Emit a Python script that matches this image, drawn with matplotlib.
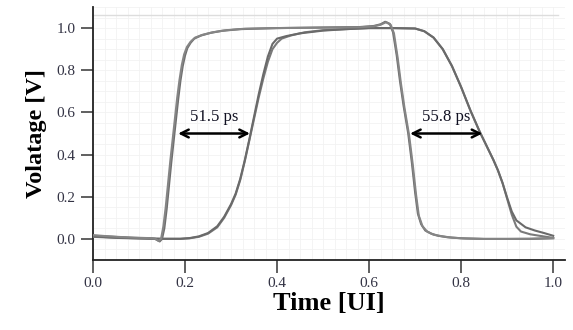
import numpy as np
import matplotlib
matplotlib.use("Agg")
import matplotlib.pyplot as plt

fast1_x = [0.00, 0.03, 0.06, 0.09, 0.12, 0.135, 0.145, 0.150, 0.155, 0.160, 0.165, 0.170,
           0.175, 0.180, 0.185, 0.190, 0.195, 0.200, 0.205, 0.212, 0.220, 0.235, 0.255, 0.28,
           0.32, 0.40, 0.50, 0.58, 0.61, 0.625, 0.635, 0.645, 0.652, 0.660, 0.667, 0.675,
           0.685, 0.693, 0.700, 0.706, 0.713, 0.722, 0.735, 0.75, 0.77, 0.80, 0.85, 0.90,
           0.95, 1.00]
fast1_y = [0.015, 0.012, 0.008, 0.005, 0.003, 0.000, -0.012, 0.000, 0.050, 0.140, 0.250, 0.360,
           0.460, 0.560, 0.660, 0.750, 0.820, 0.870, 0.905, 0.930, 0.950, 0.965, 0.977, 0.987,
           0.995, 1.000, 1.003, 1.005, 1.010, 1.018, 1.030, 1.020, 0.980, 0.870, 0.750, 0.630,
           0.500, 0.360, 0.220, 0.120, 0.070, 0.040, 0.025, 0.015, 0.008, 0.003, 0.000, 0.000,
           0.000, 0.003]

fast2_x = [0.00, 0.03, 0.06, 0.09, 0.12, 0.135, 0.143, 0.148, 0.153, 0.158, 0.163, 0.168,
           0.173, 0.178, 0.183, 0.188, 0.193, 0.198, 0.204, 0.212, 0.222, 0.238, 0.26, 0.29,
           0.33, 0.40, 0.50, 0.58, 0.61, 0.625, 0.637, 0.647, 0.654, 0.662, 0.669, 0.677,
           0.687, 0.695, 0.702, 0.708, 0.716, 0.726, 0.74, 0.76, 0.78, 0.81, 0.85, 0.90,
           0.95, 1.00]
fast2_y = [0.018, 0.013, 0.009, 0.006, 0.004, 0.001, -0.010, 0.002, 0.060, 0.150, 0.260, 0.370,
           0.470, 0.570, 0.670, 0.755, 0.825, 0.875, 0.910, 0.935, 0.955, 0.968, 0.980, 0.990,
           0.997, 1.000, 1.002, 1.004, 1.008, 1.016, 1.028, 1.015, 0.975, 0.860, 0.740, 0.620,
           0.490, 0.350, 0.210, 0.110, 0.060, 0.035, 0.020, 0.012, 0.006, 0.002, 0.000, 0.000,
           0.001, 0.004]

slow1_x = [0.00, 0.05, 0.10, 0.15, 0.19, 0.21, 0.23, 0.25, 0.27, 0.285, 0.30, 0.31, 0.32,
           0.33, 0.34, 0.35, 0.36, 0.37, 0.38, 0.39, 0.40, 0.41, 0.43, 0.46, 0.50, 0.55,
           0.60, 0.65, 0.70, 0.72, 0.74, 0.76, 0.78, 0.80, 0.82, 0.84, 0.86, 0.87, 0.88, 0.89,
           0.90, 0.91, 0.92, 0.93, 0.95, 0.97, 1.00]
slow1_y = [0.010, 0.005, 0.002, 0.000, 0.000, 0.003, 0.010, 0.025, 0.055, 0.100, 0.160, 0.210,
           0.280, 0.370, 0.470, 0.570, 0.670, 0.760, 0.840, 0.900, 0.930, 0.950, 0.965, 0.980,
           0.990, 0.995, 1.000, 1.000, 0.998, 0.985, 0.955, 0.900, 0.820, 0.720, 0.610, 0.510,
           0.420, 0.375, 0.325, 0.265, 0.190, 0.115, 0.058, 0.035, 0.022, 0.015, 0.005]

slow2_x = [0.00, 0.05, 0.10, 0.15, 0.19, 0.21, 0.23, 0.25, 0.27, 0.285, 0.30, 0.31, 0.32,
           0.33, 0.34, 0.35, 0.36, 0.37, 0.38, 0.39, 0.40, 0.42, 0.45, 0.50, 0.55,
           0.60, 0.65, 0.70, 0.72, 0.74, 0.76, 0.78, 0.80, 0.82, 0.84, 0.86, 0.87, 0.88, 0.89,
           0.90, 0.91, 0.92, 0.94, 0.96, 0.98, 1.00]
slow2_y = [0.012, 0.006, 0.003, 0.001, 0.001, 0.004, 0.012, 0.028, 0.060, 0.105, 0.165, 0.215,
           0.285, 0.375, 0.475, 0.580, 0.685, 0.780, 0.865, 0.925, 0.950, 0.962, 0.975, 0.988,
           0.995, 1.000, 1.000, 0.998, 0.985, 0.955, 0.900, 0.820, 0.720, 0.610, 0.510,
           0.420, 0.375, 0.325, 0.265, 0.195, 0.130, 0.088, 0.055, 0.040, 0.028, 0.015]

rise_span = [0.185, 0.341]
fall_span = [0.689, 0.846]
span_level = 0.50
rise_label = "51.5 ps"
fall_label = "55.8 ps"

fig = plt.figure(figsize=(5.73, 3.3), dpi=100)
ax = fig.add_axes([0.1623, 0.2121, 0.824, 0.7667])

for xs, ys, col in [(slow1_x, slow1_y, "#7a7a7a"), (slow2_x, slow2_y, "#6a6a6a"),
                    (fast1_x, fast1_y, "#6e6e6e"), (fast2_x, fast2_y, "#858585")]:
    ax.plot(xs, ys, color=col, lw=1.5, zorder=3)

ax.axhline(1.062, color="#dddddd", lw=1.0, xmax=0.985, zorder=1)

for span, label in [(rise_span, rise_label), (fall_span, fall_label)]:
    ax.annotate("", xy=(span[0], span_level), xytext=(span[1], span_level),
                arrowprops=dict(arrowstyle="<->", color="black", lw=1.8,
                                mutation_scale=14, shrinkA=0, shrinkB=0), zorder=4)
    ax.text((span[0] + span[1]) / 2, span_level + 0.078, label, ha="center", va="center",
            family="Liberation Serif", fontsize=12, color="#111122", zorder=4)

ax.set_xlim(0, 1.026)
ax.set_ylim(-0.1, 1.1)
ax.set_xticks(np.arange(0, 1.01, 0.2))
ax.set_yticks(np.arange(0, 1.01, 0.2))
ax.set_xticks(np.arange(0, 1.026, 0.025), minor=True)
ax.set_yticks(np.arange(-0.1, 1.1, 0.05), minor=True)
ax.grid(which="both", color="#f2f2f2", lw=0.6)
ax.set_axisbelow(True)

ax.spines["top"].set_visible(False)
ax.spines["right"].set_visible(False)
for s in ["left", "bottom"]:
    ax.spines[s].set_color("#222222")
    ax.spines[s].set_linewidth(1.3)

ax.tick_params(which="major", length=9, width=1.2, color="#444444", labelcolor="#333344",
               labelsize=11)
ax.tick_params(which="minor", length=0)
for lab in ax.get_xticklabels() + ax.get_yticklabels():
    lab.set_family("Liberation Serif")
ax.xaxis.set_major_formatter(plt.FuncFormatter(lambda v, p: f"{v:.1f}"))
ax.yaxis.set_major_formatter(plt.FuncFormatter(lambda v, p: f"{v:.1f}"))

ax.set_xlabel("Time [UI]", family="Liberation Serif", fontweight="bold", fontsize=19, labelpad=1)
ax.set_ylabel("Volatage [V]", family="Liberation Serif", fontweight="bold", fontsize=17.5, labelpad=7)

fig.savefig("out.png", dpi=100)
